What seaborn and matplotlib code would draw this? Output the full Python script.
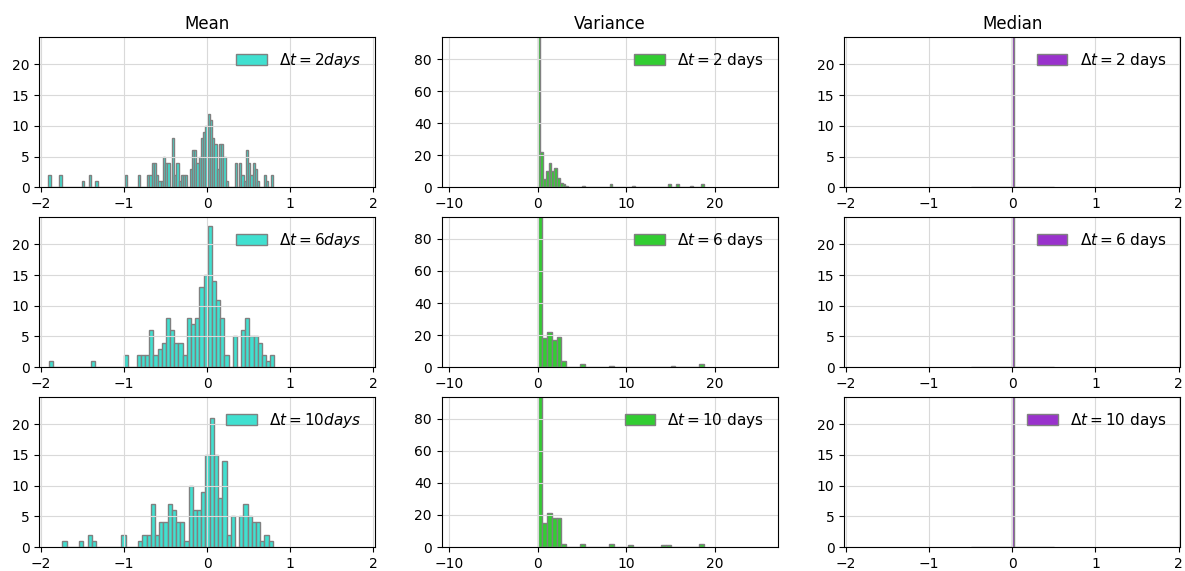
import numpy as np
import matplotlib
matplotlib.use("Agg")
import matplotlib.pyplot as plt
from matplotlib.ticker import MultipleLocator
import seaborn as sns

# ---- data (bin counts per panel) ----
lags = [2, 6, 10]

# Mean of the increments: (lo, hi) of the bin range and counts per bin
mean_range = {2: (-1.91, 0.79), 6: (-1.90, 0.81), 10: (-1.74, 0.79)}
mean_counts_2 = [
    2, 0, 0, 0, 0, 2, 0, 0, 0, 0,
    0, 0, 0, 0, 0, 1, 0, 0, 2, 0,
    0, 1, 0, 0, 0, 0, 0, 0, 0, 0,
    0, 0, 0, 0, 2, 0, 0, 0, 0, 0,
    2, 0, 0, 0, 2, 2, 4, 4, 2, 1,
    1, 5, 4, 4, 0, 8, 2, 4, 1, 2,
    2, 2, 0, 3, 6, 6, 4, 5, 8, 9,
    10, 12, 11, 8, 7, 3, 7, 7, 5, 1,
    0, 0, 0, 4, 0, 4, 2, 1, 6, 4,
    2, 4, 3, 1, 0, 0, 2, 1, 0, 2,
]
mean_counts_6 = [
    1, 0, 0, 0, 0, 0, 0, 0, 0, 0,
    1, 0, 0, 0, 0, 0, 0, 0, 2, 0,
    0, 2, 2, 2, 6, 2, 3, 4, 8, 6,
    4, 4, 2, 8, 7, 8, 13, 15, 23, 14,
    11, 8, 2, 0, 5, 0, 6, 8, 5, 5,
    4, 2, 1, 2,
]
mean_counts_10 = [
    1, 0, 0, 0, 1, 0, 2, 1, 0, 0,
    0, 0, 0, 0, 2, 0, 0, 0, 1, 2,
    2, 7, 2, 4, 4, 7, 6, 4, 4, 1,
    10, 6, 6, 9, 15, 21, 15, 8, 14, 2,
    5, 0, 5, 7, 5, 4, 4, 1, 2, 1,
]

# Variance of the increments (first bin runs off the top of the axes)
var_range = {2: (0.0, 18.75), 6: (0.0, 18.75), 10: (0.0, 18.75)}
var_counts_2 = [
    110, 22, 5, 10, 15, 10, 12, 6, 3, 2,
    1, 0, 0, 0, 0, 0, 1, 0, 0, 0,
    0, 0, 0, 0, 0, 0, 2, 0, 0, 0,
    0, 0, 0, 0, 1, 0, 0, 0, 0, 0,
    0, 0, 0, 0, 0, 0, 0, 2, 0, 0,
    2, 0, 0, 0, 0, 1, 0, 0, 0, 2,
]
var_counts_6 = [
    110, 18, 22, 17, 19, 4, 0, 0, 0, 2,
    0, 0, 0, 0, 0, 1, 0, 0, 0, 0,
    0, 0, 0, 0, 0, 0, 0, 0, 1, 0,
    0, 0, 0, 0, 2,
]
var_counts_10 = [
    110, 15, 21, 18, 18, 2, 0, 0, 0, 2,
    0, 0, 0, 0, 0, 2, 0, 0, 0, 1,
    0, 0, 0, 0, 0, 0, 1, 1, 0, 0,
    0, 0, 0, 0, 2,
]

# Median of the increments: every window gave exactly 0
median_values = [0.0]
median_counts = [210]
median_bins = 50

mean_counts = {2: mean_counts_2, 6: mean_counts_6, 10: mean_counts_10}
var_counts = {2: var_counts_2, 6: var_counts_6, 10: var_counts_10}


def weighted_hist(ax, counts, lo, hi, color, label):
    counts = np.asarray(counts, dtype=float)
    n = len(counts)
    centers = lo + (np.arange(n) + 0.5) * (hi - lo) / n
    sns.histplot(x=centers, weights=counts, bins=n, binrange=(lo, hi), ax=ax,
                 color=color, edgecolor="gray", linewidth=1, alpha=1,
                 label=label)


fig, axes = plt.subplots(3, 3, figsize=(11.85, 5.71), dpi=100)
fig.subplots_adjust(left=0.033, right=0.996, bottom=0.042, top=0.935,
                    wspace=0.198, hspace=0.197)

for row, lag in enumerate(lags):
    ax_mean, ax_var, ax_med = axes[row]

    lo, hi = mean_range[lag]
    weighted_hist(ax_mean, mean_counts[lag], lo, hi, "turquoise",
                  rf"$\Delta t = {lag} days$")
    ax_mean.set_xlim(-2.02, 2.02)
    ax_mean.set_ylim(0, 24.45)

    lo, hi = var_range[lag]
    weighted_hist(ax_var, var_counts[lag], lo, hi, "limegreen",
                  rf"$\Delta t = {lag}$ days")
    ax_var.set_xlim(-10.8, 27.05)
    ax_var.set_ylim(0, 93.7)
    ax_var.xaxis.set_major_locator(MultipleLocator(10))

    sns.histplot(x=median_values, weights=median_counts, bins=median_bins,
                 ax=ax_med, color="darkorchid", edgecolor="gray",
                 linewidth=1, alpha=1, label=rf"$\Delta t = {lag}$ days")
    ax_med.set_xlim(-2.02, 2.02)
    ax_med.set_ylim(0, 24.45)

    for ax in axes[row]:
        ax.grid(True, color="#d9d9d9", linewidth=0.8)
        ax.set_xlabel("")
        ax.set_ylabel("")
        ax.legend(loc="upper right", frameon=False, fontsize=11)

axes[0, 0].set_title("Mean")
axes[0, 1].set_title("Variance")
axes[0, 2].set_title("Median")

fig.savefig("out.png", dpi=100)
